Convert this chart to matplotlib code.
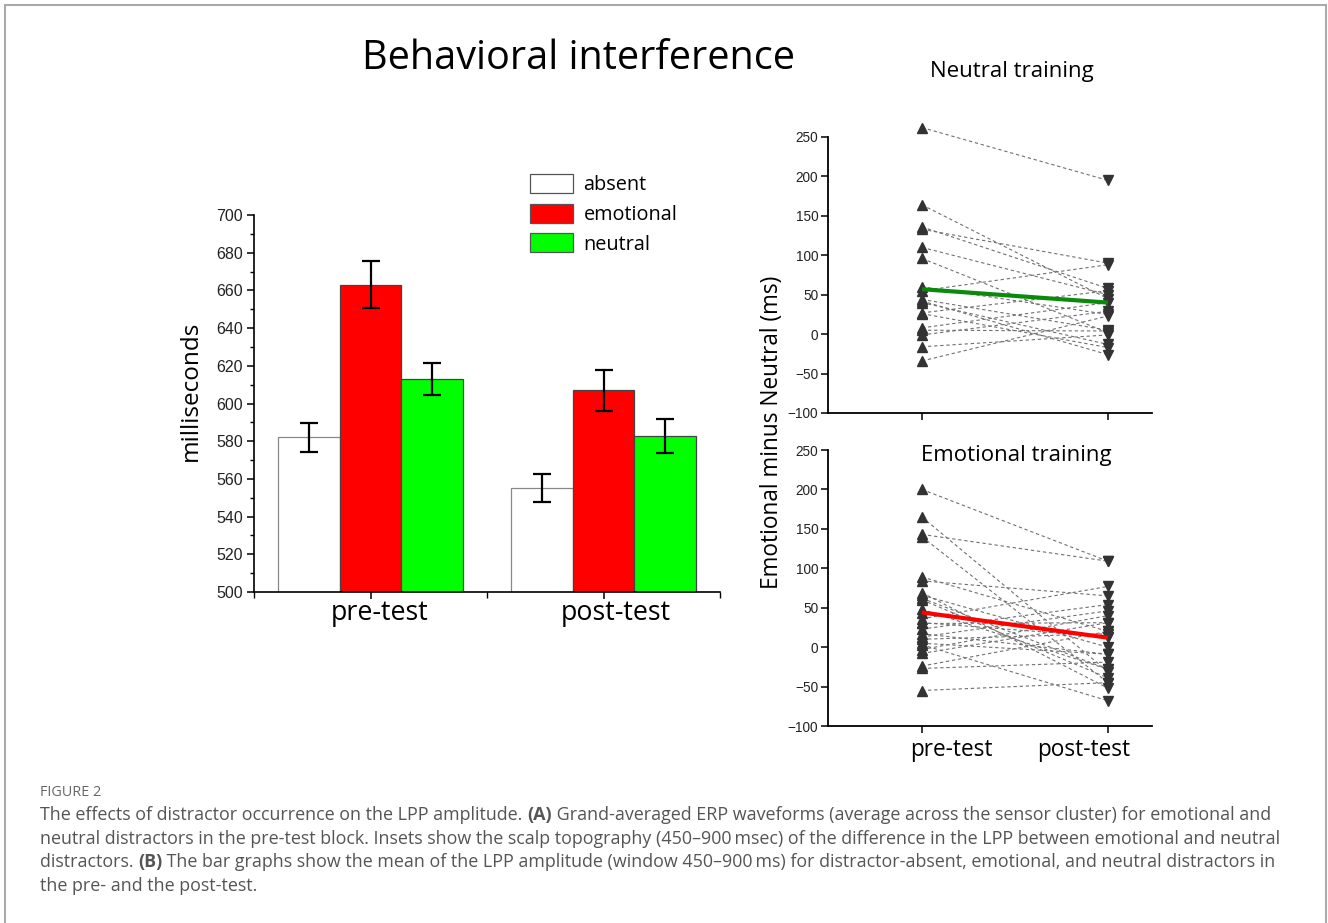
import matplotlib
matplotlib.use('Agg')
import matplotlib.pyplot as plt
from matplotlib.patches import Patch, Rectangle
from matplotlib.ticker import MultipleLocator, FixedLocator

# --- bar chart data (milliseconds) ---
sessions = ['pre-test', 'post-test']
conditions = ['absent', 'emotional', 'neutral']
cond_colors = ['#ffffff', '#ff0000', '#00ff00']
cond_edges = ['#888888', '#444444', '#444444']
absent_ms = [582, 555]
emotional_ms = [663, 607]
neutral_ms = [613, 583]
absent_err = [7.5, 7.5]
emotional_err = [12.5, 11]
neutral_err = [8.5, 9]

# --- emotional minus neutral per subject (ms) ---
neutral_pre = [262, 164, 136, 133, 110, 96, 60, 55, 44, 40, 27, 26, 8, -1, -16, -34, 42, 5]
neutral_post = [195, 45, 58, 90, 50, 2, 25, 88, 5, -13, 55, -17, 40, 29, -1, 23, -26, 4]
neutral_mean = [57, 40]

emotional_pre = [200, 165, 143, 140, 89, 84, 69, 66, 60, 48, 36, 31, 23, 17, 13, 10, 3,
                 -3, -8, -24, -27, -55, 43, 5, 30, 62]
emotional_post = [109, -31, 109, -45, 20, 65, -52, 0, -39, -28, 77, 13, 54, -9, 46, 17, -68,
                  40, 31, 20, -19, -45, 13, -9, 31, -28]
emotional_mean = [44, 12]

W, H = 1328, 923
fig = plt.figure(figsize=(W / 100, H / 100), dpi=100)
label_font = ['Open Sans', 'DejaVu Sans']
tick_font = ['Liberation Sans', 'DejaVu Sans']


def fx(px):
    return px / W


def fy(py):
    return 1 - py / H


# frame around the figure
fig.add_artist(Rectangle((fx(5), fy(940)), fx(1321), 935 / H, transform=fig.transFigure,
                         fill=False, edgecolor='#aaaaaa', lw=1.5))

# ---------------- bar chart ----------------
ax = fig.add_axes([fx(254), fy(592), fx(466), fy(215) - fy(592)])
width = 0.266
values = [absent_ms, emotional_ms, neutral_ms]
errors = [absent_err, emotional_err, neutral_err]
for i, (vals, errs) in enumerate(zip(values, errors)):
    xs = [g + (i - 1) * width for g in range(len(sessions))]
    ax.bar(xs, vals, width, color=cond_colors[i], edgecolor=cond_edges[i], linewidth=0.9,
           label=conditions[i], zorder=2)
    ax.errorbar(xs, vals, yerr=errs, fmt='none', ecolor='black', elinewidth=1.6,
                capsize=6.5, capthick=1.6, zorder=3)

ax.set_xlim(-0.5, 1.5)
ax.set_ylim(500, 700)
ax.yaxis.set_major_locator(MultipleLocator(20))
ax.yaxis.set_minor_locator(MultipleLocator(10))
ax.set_xticks([0, 1])
ax.set_xticklabels([])
ax.xaxis.set_minor_locator(FixedLocator([-0.5, 0.5, 1.5]))
ax.tick_params(axis='y', which='major', length=5, width=1.1, labelsize=11.5, pad=3)
ax.tick_params(axis='y', which='minor', length=3, width=1.0)
ax.tick_params(axis='x', which='major', length=5, width=1.1)
ax.tick_params(axis='x', which='minor', length=4, width=1.0)
for lbl in ax.get_yticklabels():
    lbl.set_family(tick_font)
    lbl.set_color('#222222')
for s in ['top', 'right']:
    ax.spines[s].set_visible(False)
for s in ['left', 'bottom']:
    ax.spines[s].set_linewidth(1.2)

fig.text(fx(380), fy(613), sessions[0], ha='center', va='center', fontsize=19.3,
         family=label_font)
fig.text(fx(616), fy(613), sessions[1], ha='center', va='center', fontsize=19.3,
         family=label_font)
fig.text(fx(191), fy(391), 'milliseconds', rotation=90, ha='center', va='center',
         fontsize=17.5, family=label_font)

handles = [Patch(facecolor=c, edgecolor='#555555', linewidth=0.9) for c in cond_colors]
fig.legend(handles, conditions, loc='upper left', bbox_to_anchor=(fx(530), fy(174)),
           frameon=False, borderpad=0, borderaxespad=0, handlelength=2.15,
           handleheight=1.1, labelspacing=0.42, handletextpad=0.55,
           prop={'family': label_font, 'size': 14.3})

fig.text(fx(578), fy(59), 'Behavioral interference', ha='center', va='center',
         fontsize=28.5, family=label_font)

# ---------------- paired difference panels ----------------
panels = [
    (137, neutral_pre, neutral_post, neutral_mean, '#0a8a0a'),
    (450, emotional_pre, emotional_post, emotional_mean, '#ff0000'),
]
for top_px, pre, post, mean, mcolor in panels:
    a = fig.add_axes([fx(828), fy(top_px + 276), fx(324), 276 / H])
    for p0, p1 in zip(pre, post):
        a.plot([1, 2], [p0, p1], color='#707070', lw=0.8, ls=(0, (3, 2.5)), zorder=1,
               clip_on=False)
    a.plot([1] * len(pre), pre, ls='none', marker='^', ms=6.5, color='#333333', zorder=2,
           clip_on=False)
    a.plot([2] * len(post), post, ls='none', marker='v', ms=6.5, color='#333333', zorder=2,
           clip_on=False)
    a.plot([1, 2], mean, color=mcolor, lw=3, zorder=3, solid_capstyle='butt')
    a.set_xlim(0.495, 2.237)
    a.set_ylim(-100, 250)
    a.yaxis.set_major_locator(MultipleLocator(50))
    a.set_xticks([1, 2])
    a.set_xticklabels([])
    a.tick_params(axis='both', length=5, width=1.1, labelsize=9.8, pad=2, labelcolor='#222222')
    for lbl in a.get_yticklabels():
        lbl.set_family(tick_font)
    for s in ['top', 'right']:
        a.spines[s].set_visible(False)
    for s in ['left', 'bottom']:
        a.spines[s].set_linewidth(1.3)

fig.text(fx(1012), fy(72), 'Neutral training', ha='center', va='center', fontsize=16,
         family=label_font)
fig.text(fx(1016), fy(455), 'Emotional training', ha='center', va='center', fontsize=16,
         family=label_font)
fig.text(fx(772), fy(432), 'Emotional minus Neutral (ms)', rotation=90, ha='center',
         va='center', fontsize=16.3, family=label_font)
fig.text(fx(951), fy(750), 'pre-test', ha='center', va='center', fontsize=16.3,
         family=label_font)
fig.text(fx(1084), fy(750), 'post-test', ha='center', va='center', fontsize=16.3,
         family=label_font)

# ---------------- caption ----------------
fig.text(fx(40), fy(792), 'FIGURE 2', ha='left', va='center', fontsize=10.4, color='#666666',
         family=label_font)
caption = [
    [('The effects of distractor occurrence on the LPP amplitude. ', 'normal'), ('(A)', 'bold'),
     (' Grand-averaged ERP waveforms (average across the sensor cluster) for emotional and', 'normal')],
    [('neutral distractors in the pre-test block. Insets show the scalp topography (450\u2013900\u2009msec) '
      'of the difference in the LPP between emotional and neutral', 'normal')],
    [('distractors. ', 'normal'), ('(B)', 'bold'),
     (' The bar graphs show the mean of the LPP amplitude (window 450\u2013900\u2009ms) for '
      'distractor-absent, emotional, and neutral distractors in', 'normal')],
    [('the pre- and the post-test.', 'normal')],
]
renderer = fig.canvas.get_renderer()
for row, segments in enumerate(caption):
    x = fx(40)
    for txt, weight in segments:
        t = fig.text(x, fy(815 + row * 23.7), txt, ha='left', va='center', fontsize=12.9,
                     color='#555555', weight=weight, family=label_font)
        x = t.get_window_extent(renderer).x1 / W

fig.savefig('out.png', dpi=100)
